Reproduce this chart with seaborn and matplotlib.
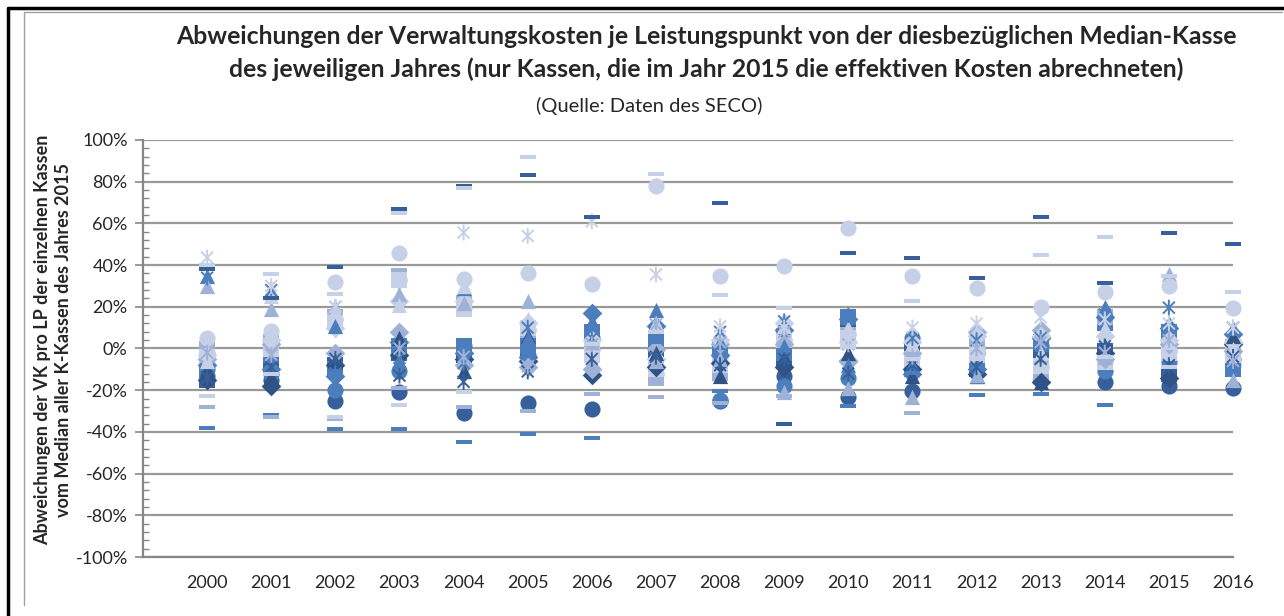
import numpy as np
import pandas as pd
import matplotlib
matplotlib.use("Agg")
import matplotlib.pyplot as plt
import seaborn as sns
from matplotlib.path import Path
from matplotlib.ticker import PercentFormatter, MultipleLocator

# Jahre (x-Achse)
jahre = list(range(2000, 2017))
N = np.nan

# Abweichungen in % je Kasse (Werte aus der Grafik geschaetzt)
strich_dunkel = [38, 24, 39, 67, 78, 83, 63, N, 70, -36, 46, 43.6, 34, 63, 31.6, 55.6, 50]
strich_mittel = [-38, -32, -38.5, -38.5, -45, -41, -43, 3, -20.6, -0.5, -27.5, -11.7, -22.5, -21.6, -27, N, N]
strich_hell = [-28, -33, -34, -19, -28, -30, -22, -23.5, -26, -23, N, -30.7, N, N, N, N, N]
strich_sehrhell = [40, 35.5, 26, 65, 77, 92, 2, 83.5, 25.5, 19.6, 0.5, 22.6, -5, 45, 53.7, 35, 27]
strich_sehrhell2 = [-23, -12, -33, -27, -21, N, N, 8, N, N, N, -5, N, N, -4, -9, N]

kreis_sehrhell = [5, 8.6, 32, 46, 33.5, 36, 30.7, 78, 35, 39.8, 58, 34.6, 29, 20, 27.3, 30, 19.6]
kreis_dunkel = [-13, -15, -25, -21, -31, -26, -29, N, -25, -13.4, -23.5, -20.6, N, N, -16.3, -18, -19]
kreis_mittel = [-10, -12, -20, -11, 1, -3, 5, 0, -24.5, -18, -14, 5, -2, 1, -11, -6.7, -5]
kreis_hell = [-2, 2, 14, 33, 20, 9, 0, -12, -4, 4, 7, -4, 0, -9, -6, -1, -8]

quadrat_mittel = [-12, -3, -10, 1, 1, 1, 7.7, 3, 0, -2, 15, -10, -7.7, 3, 12, 8, -10]
quadrat_hell = [0, 3, 15, 35, 22, 9, -2, -14, -11.7, 5.8, 6.7, -5, 1, -11.7, 15, -0.5, 0.5]
quadrat_dunkel = [-15, -8, -8, -2, -3, -1, 2, -2, -3, -5, 13, 0, -10, -4, -1, -12, -2]
quadrat_sehrhell = [-4, 0, 13, 33, 19, 10, -3, -10, -8, 3, 5, -6, -3, -8.6, -6.7, -2, -3]

raute_dunkel = [-15, -18, -8, -3, -5, -6, -12.5, -9, -7, -9, -6, -10, -12, -16, -2, -14, 2]
raute_mittel = [-8, -10, -13, 3, -2, -4, 17, 10.6, -3, 9, 14, -12, -10, 5, 15, 10, 7]
raute_hell = [-5, 2, -2, 8, -8, -9, -10, 0, 2, 2, -6, -2, 8, 9, -5, 2, -1]
raute_sehrhell = [-3, 4, 10, 23, 23, 12, 4, -5, 4, 12, 3, 3, 6, 6, 6, 4, 3]

dreieck_mittel = [35, 27, 11, -6, 29, 5, 12.5, 18.7, 3, 1, -8, -8, -13.4, 2, 20, 12, 10]
dreieck_hell = [30, 19, 20, 26, 22, 22.6, 3, -6, -5, -21, -19, -23.5, -12.5, -3, -4, 35.5, -15]
dreieck_dunkel = [-10, -13, -6, 5, -11, 6, 12.5, -2, -13, -4, -2, -13, -13.4, -16, 1, -13.4, 5.8]
dreieck_sehrhell = [-6, 25, 18, 21, 30, 14, 5, 12, 8, 11, 10, 2, 3, -2, 10, 3, 0]

kreuz_dunkel = [26, 44, -16, -15, -16, -10, -10, -3, 8, -10, -10, -17, -5, -12, 4, -14, 4]
kreuz_mittel = [34, -7, -12, -4.5, -12, -8, 1, 7, 5, 13, 17, 6.7, 5, 6, 16.3, 12.5, 13]
kreuz_hell = [-9, -5, 6, 35, 10, 16, 9, 11.5, 10.6, 10, 12, 12.5, 23.5, 15, 14, 4, 8]
kreuz_sehrhell = [-10, -6, 8, 30, 5, -8.5, 3, 10, 3, 6, 4, -2, 14, 8, 2, 6, 5]

plus_mittel = [13, 55.7, 41, 51, 8, 26, 19.6, 0.5, 28, 29, 28.7, 44, 39, 6, 9, 20, 15]
plus_mittel2 = [-18, -4, 10, 2, 2.4, -18, 8, -10, 3, -8, 7, 3, 2, -1, -10, -4, -7]
plus_dunkel = [-20, -10, -20, -10, -14, 3, -18, 3, -6, -3, -8, -14, -6, -9, 1, -12, -11]
plus_sehrhell = [30, 30, 5, 8, 0, 12, 1, 41, 15, -31, 0, 0.5, 2, 0.5, 3, 0, 20]

stern_sehrhell = [43.6, 30, 20, 33, 55.6, 54, 61, 35.5, 10.6, 10, 5, 10, 12, 15, 14, 12, 10]
stern_mittel = [34, 28, -12, -4.5, -7, 10, 5, 6, 8, 13, 16, 5, 4, 5, 16.3, 19.6, 10]
stern_dunkel = [-14, -9, -5, -13, -16, -11, -5, -4, -8, -5, -12, -8, -9, -5, 1, -8, -4]
stern_hell = [-2, -3, 20, 0, -4, -8.5, 2, 11.5, 3, 8, 2, -4, 0, 3, -2, 4, -6]

# Farben
dunkel = "#37609A"
mittel = "#4C7DBC"
hell = "#9EB2D8"
sehrhell = "#C6D0E6"

# Markerformen wie in Excel
strich = Path([(-1, -0.28), (1, -0.28), (1, 0.28), (-1, 0.28), (-1, -0.28)])
stern = Path([(0, -1), (0, 1), (-0.75, -0.75), (0.75, 0.75), (-0.75, 0.75), (0.75, -0.75)],
             [Path.MOVETO, Path.LINETO, Path.MOVETO, Path.LINETO, Path.MOVETO, Path.LINETO])

serien = [
    (kreis_dunkel, "o", dunkel), (kreis_mittel, "o", mittel), (kreis_hell, "o", hell),
    (quadrat_dunkel, "s", dunkel), (quadrat_mittel, "s", mittel), (quadrat_hell, "s", hell),
    (quadrat_sehrhell, "s", sehrhell),
    (raute_dunkel, "D", "#2F5386"), (raute_mittel, "D", mittel), (raute_hell, "D", hell),
    (raute_sehrhell, "D", sehrhell),
    (dreieck_dunkel, "^", "#2F5386"), (dreieck_mittel, "^", mittel), (dreieck_hell, "^", hell),
    (dreieck_sehrhell, "^", sehrhell),
    (kreis_sehrhell, "o", sehrhell),
    (kreuz_dunkel, "x", dunkel), (kreuz_mittel, "x", mittel), (kreuz_hell, "x", hell),
    (kreuz_sehrhell, "x", sehrhell),
    (stern_dunkel, stern, dunkel), (stern_mittel, stern, mittel), (stern_hell, stern, hell),
    (stern_sehrhell, stern, sehrhell),
    (plus_dunkel, "+", dunkel), (plus_mittel, "+", mittel), (plus_mittel2, "+", mittel),
    (plus_sehrhell, "+", sehrhell),
    (strich_dunkel, strich, dunkel), (strich_mittel, strich, mittel), (strich_hell, strich, hell),
    (strich_sehrhell, strich, sehrhell), (strich_sehrhell2, strich, sehrhell),
]

sns.set_style("white")
plt.rcParams["font.family"] = ["Lato", "DejaVu Sans"]
plt.rcParams["axes.unicode_minus"] = False

fig = plt.figure(figsize=(12.84, 6.16), dpi=100)
ax = fig.add_axes([143 / 1284, 1 - 557 / 616, (1233 - 143) / 1284, (557 - 140) / 616])

for werte, marker, farbe in serien:
    df = pd.DataFrame({"Jahr": jahre, "Wert": np.array(werte, dtype=float) / 100})
    if marker in ("x", "+") or marker is stern:
        sns.scatterplot(data=df, x="Jahr", y="Wert", marker=marker, color=farbe,
                        edgecolor=farbe, facecolor="none", s=130 if marker != "x" else 90,
                        linewidth=1.4, ax=ax, clip_on=False, zorder=3)
    else:
        groesse = {"o": 135, "s": 120, "D": 100, "^": 120}.get(marker, 125)
        sns.scatterplot(data=df, x="Jahr", y="Wert", marker=marker, color=farbe,
                        s=groesse, linewidth=0, ax=ax, clip_on=False, zorder=3)

ax.set_xlim(1999, 2016)
ax.set_ylim(-1, 1)
ax.set_xticks(jahre)
ax.set_xticklabels([str(j) for j in jahre], fontsize=13)
ax.tick_params(axis="x", length=0, pad=13)
ax.yaxis.set_major_locator(MultipleLocator(0.2))
ax.yaxis.set_minor_locator(MultipleLocator(0.04))
ax.yaxis.set_major_formatter(PercentFormatter(1.0, decimals=0))
ax.tick_params(axis="y", which="major", direction="out", length=6, width=1.2,
               color="#868686", labelsize=13, pad=5, left=True)
ax.tick_params(axis="y", which="minor", direction="in", length=4, width=1,
               color="#868686", left=True)
ax.grid(axis="y", color="#999999", linewidth=1.6)
ax.grid(axis="x", visible=False)
ax.set_axisbelow(True)
for s in ("top", "right"):
    ax.spines[s].set_visible(False)
for s in ("left", "bottom"):
    ax.spines[s].set_color("#868686")
    ax.spines[s].set_linewidth(1.6)
ax.set_xlabel("")
ax.set_ylabel("")

fig.text(53 / 1284, 1 - 340 / 616,
         "Abweichungen der VK pro LP der einzelnen Kassen\nvom Median aller K-Kassen des Jahres 2015",
         rotation=90, ha="center", va="center", fontsize=13, fontweight="bold",
         linespacing=1.3, multialignment="center")

fig.text(706 / 1284, 1 - 36 / 616,
         "Abweichungen der Verwaltungskosten je Leistungspunkt von der diesbezüglichen Median-Kasse",
         ha="center", va="center", fontsize=17.8, fontweight="bold")
fig.text(706 / 1284, 1 - 69 / 616,
         "des jeweiligen Jahres (nur Kassen, die im Jahr 2015 die effektiven Kosten abrechneten)",
         ha="center", va="center", fontsize=17.8, fontweight="bold")
fig.text(649 / 1284, 1 - 106 / 616, "(Quelle: Daten des SECO)",
         ha="center", va="center", fontsize=14.5)

# Rahmen
fig.add_artist(plt.Line2D([8 / 1284, 8 / 1284], [0, 1 - 8 / 616], color="black", linewidth=2.5))
fig.add_artist(plt.Line2D([8 / 1284, 1], [1 - 8 / 616, 1 - 8 / 616], color="black", linewidth=2.5))
fig.add_artist(plt.Line2D([24 / 1284, 24 / 1284], [1 - 605 / 616, 1 - 12 / 616], color="#a0a0a0", linewidth=1))
fig.add_artist(plt.Line2D([24 / 1284, 1282 / 1284], [1 - 12 / 616, 1 - 12 / 616], color="#a0a0a0", linewidth=1))

fig.savefig("out.png", dpi=100)
